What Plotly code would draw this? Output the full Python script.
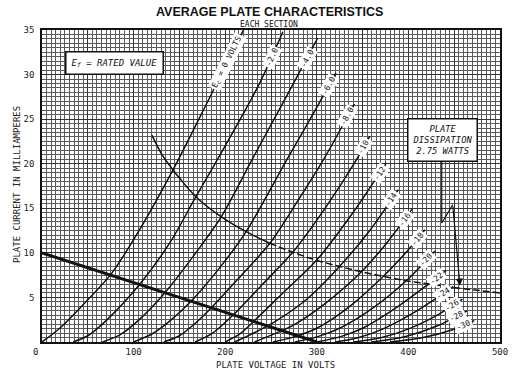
import math
import plotly.graph_objects as go

# ---------------- data ----------------
grid_labels = ["E<sub>c</sub> = 0 VOLTS", "-2.0", "-4.0", "-6.0", "-8.0", "-10", "-12",
               "-14", "-16", "-18", "-20", "-22", "-24", "-26", "-28", "-30"]
label_plain_len = [12, 4, 4, 4, 4, 3, 3, 3, 3, 3, 3, 3, 3, 3, 3, 3]
label_gap_px = [5, 16, 11, 3, 3, 3, 3, 3, 3, 3, 3, 3, 3, 3, 3, 3]

v_ec0 = [0, 20, 45, 76, 110, 143, 182, 220]
i_ec0 = [0, 1.6, 4.2, 7.7, 13.2, 19.3, 27.2, 35.0]
v_ec2 = [34, 50, 70, 106.5, 140, 168, 200, 237, 263]
i_ec2 = [0, 0.7, 2.4, 6.45, 11.2, 16.3, 22.0, 28.9, 34.8]
v_ec4 = [66, 85, 105, 134, 165, 196, 229, 265, 301]
i_ec4 = [0, 0.8, 2.4, 5.5, 9.6, 14.1, 20.4, 27.2, 34.1]
v_ec6 = [100, 120, 140, 163, 193, 223, 267, 296, 321]
i_ec6 = [0, 0.9, 2.4, 4.6, 8.2, 12.4, 20.4, 25.6, 30.2]
v_ec8 = [133, 150, 165, 185, 216, 249, 279, 307, 341]
i_ec8 = [0, 0.7, 1.9, 3.85, 7.3, 11.1, 15.8, 20.4, 26.7]
v_ec10 = [167, 185, 209, 241, 274, 311, 343, 358]
i_ec10 = [0, 0.9, 3.05, 6.5, 10.1, 15.3, 20.4, 23.1]
v_ec12 = [200, 216, 231, 263, 300, 338, 376]
i_ec12 = [0, 0.9, 2.3, 5.5, 9.2, 14.3, 20.1]
v_ec14 = [210, 227, 253, 289, 325, 357, 389]
i_ec14 = [0, 0.8, 2.2, 4.8, 8.5, 12.4, 17.1]
v_ec16 = [232, 251, 273, 309, 349, 377, 404]
i_ec16 = [0, 0.8, 1.8, 4.3, 7.9, 11.2, 14.9]
v_ec18 = [252, 276, 301, 336, 373, 397, 418]
i_ec18 = [0, 0.6, 1.6, 4.0, 7.4, 10.0, 12.6]
v_ec20 = [276, 301, 326, 361, 398, 429]
i_ec20 = [0, 0.6, 1.6, 3.8, 6.9, 10.2]
v_ec22 = [300, 326, 351, 386, 422, 441]
i_ec22 = [0, 0.6, 1.6, 3.8, 6.5, 8.0]
v_ec24 = [320, 346, 373, 411, 449]
i_ec24 = [0, 0.5, 1.5, 3.6, 6.2]
v_ec26 = [340, 371, 401, 433, 459]
i_ec26 = [0, 0.5, 1.5, 3.1, 4.8]
v_ec28 = [360, 396, 431, 464]
i_ec28 = [0, 0.6, 1.8, 3.5]
v_ec30 = [380, 416, 449, 472]
i_ec30 = [0, 0.5, 1.4, 2.4]

diss_v = [120, 130, 143, 150, 168, 195, 222.5, 248, 273, 298.6, 324, 347.5, 371, 396, 420, 447, 475, 500]
diss_i = [23.2, 21.2, 19.3, 18.4, 16.3, 14.1, 12.4, 11.1, 10.1, 9.2, 8.5, 7.9, 7.4, 6.9, 6.55, 6.15, 5.8, 5.5]
diss_solid_count = 8

load_v = [0, 300]
load_i = [10, 0]

arrow_v = [436.4, 436.4, 448.4]
arrow_i = [20.2, 13.35, 15.4]
arrow_tip = (456.3, 6.3)

x_ticks = [50, 100, 150, 200, 250, 300, 350, 400, 450, 500]
x_ticktext = ["", "100", "", "200", "", "300", "", "400", "", "500"]
y_ticks = [5, 10, 15, 20, 25, 30, 35]
y_ticktext = ["5", "10", "15", "20", "25", "30", "35"]

curves_v = [v_ec0, v_ec2, v_ec4, v_ec6, v_ec8, v_ec10, v_ec12, v_ec14, v_ec16,
            v_ec18, v_ec20, v_ec22, v_ec24, v_ec26, v_ec28, v_ec30]
curves_i = [i_ec0, i_ec2, i_ec4, i_ec6, i_ec8, i_ec10, i_ec12, i_ec14, i_ec16,
            i_ec18, i_ec20, i_ec22, i_ec24, i_ec26, i_ec28, i_ec30]

# ---------------- layout geometry ----------------
W, H = 519, 373
ML, MR, MT, MB = 42, 19, 30, 31
PW, PH = W - ML - MR, H - MT - MB
XMAX, YMAX = 500, 35
SX, SY = PW / XMAX, PH / YMAX
MONO = "DejaVu Sans Mono"
INK = "#111"

fig = go.Figure()

for v, i in zip(curves_v, curves_i):
    fig.add_trace(go.Scatter(x=v, y=i, mode="lines",
                             line=dict(color=INK, width=1.5, shape="spline", smoothing=0.8),
                             hoverinfo="skip", showlegend=False))

fig.add_trace(go.Scatter(x=diss_v[:diss_solid_count], y=diss_i[:diss_solid_count], mode="lines",
                         line=dict(color=INK, width=1.5, shape="spline"), showlegend=False))
fig.add_trace(go.Scatter(x=diss_v[diss_solid_count - 1:], y=diss_i[diss_solid_count - 1:], mode="lines",
                         line=dict(color=INK, width=1.5, shape="spline", dash="7px,3px"),
                         showlegend=False))
fig.add_trace(go.Scatter(x=load_v, y=load_i, mode="lines",
                         line=dict(color=INK, width=3), showlegend=False))
fig.add_trace(go.Scatter(x=arrow_v, y=arrow_i, mode="lines",
                         line=dict(color=INK, width=1.2), showlegend=False))

annotations = []
# curve labels, rotated along each curve near its upper end
for k, (v, i) in enumerate(zip(curves_v, curves_i)):
    dx = (v[-1] - v[-2]) * SX
    dy = (i[-1] - i[-2]) * SY
    ang = math.atan2(dy, dx)
    length = label_plain_len[k] * 4.85 + 4
    d = length / 2 + label_gap_px[k]
    cx = v[-1] - d * math.cos(ang) / SX
    cy = i[-1] - d * math.sin(ang) / SY
    annotations.append(dict(x=cx, y=cy, xref="x", yref="y", text=grid_labels[k],
                            xanchor="center", yanchor="middle",
                            showarrow=False, textangle=-math.degrees(ang),
                            font=dict(family=MONO, size=8, color=INK),
                            bgcolor="white", borderpad=1))

annotations += [
    dict(x=arrow_tip[0], y=arrow_tip[1], ax=arrow_v[-1], ay=arrow_i[-1], xref="x", yref="y",
         axref="x", ayref="y", text="", showarrow=True, arrowhead=2, arrowsize=1.2,
         arrowwidth=1.2, arrowcolor=INK),
    dict(x=78.6, y=31.3, xref="x", yref="y", showarrow=False, xanchor="center", yanchor="middle",
         text="<i>E<sub>f</sub> = RATED VALUE</i>",
         font=dict(family=MONO, size=9, color=INK),
         bgcolor="white", bordercolor=INK, borderwidth=1.5, borderpad=5),
    dict(x=437.2, y=22.7, xref="x", yref="y", showarrow=False, xanchor="center", yanchor="middle",
         text="<i>PLATE<br>DISSIPATION<br>2.75 WATTS</i>",
         font=dict(family=MONO, size=8.8, color=INK), align="center",
         bgcolor="white", bordercolor=INK, borderwidth=1.5, borderpad=4),
    dict(x=(269 - ML) / PW, y=1 + 18 / PH, xref="paper", yref="paper", showarrow=False,
         xanchor="center", yanchor="middle",
         text="<b>AVERAGE PLATE CHARACTERISTICS</b>",
         font=dict(family="Liberation Sans, Arial", size=12.5, color=INK)),
    dict(x=(269 - ML) / PW, y=1 + 6 / PH, xref="paper", yref="paper", showarrow=False,
         xanchor="center", yanchor="middle",
         text="EACH SECTION", font=dict(family=MONO, size=8, color=INK)),
    dict(x=(17 - ML) / PW, y=(H - MB - 185) / PH, xref="paper", yref="paper", showarrow=False,
         xanchor="center", yanchor="middle",
         text="PLATE CURRENT IN MILLIAMPERES", textangle=-90,
         font=dict(family=MONO, size=9, color="#222")),
    dict(x=(275 - ML) / PW, y=-23 / PH, xref="paper", yref="paper", showarrow=False,
         xanchor="center", yanchor="middle",
         text="PLATE VOLTAGE IN VOLTS", font=dict(family=MONO, size=9, color="#222")),
    dict(x=(35 - ML) / PW, y=-10 / PH, xref="paper", yref="paper", showarrow=False,
         xanchor="center", yanchor="middle",
         text="0", font=dict(family=MONO, size=9, color="#222")),
]

fig.update_layout(
    width=W, height=H,
    margin=dict(l=ML, r=MR, t=MT, b=MB, autoexpand=False),
    paper_bgcolor="white", plot_bgcolor="white",
    showlegend=False,
    annotations=annotations,
    xaxis=dict(range=[0, XMAX], tickvals=x_ticks, ticktext=x_ticktext, ticks="",
               showgrid=True, gridcolor="#333", gridwidth=1, zeroline=False,
               showline=True, mirror=True, linecolor=INK, linewidth=1.5,
               tickfont=dict(family=MONO, size=9, color="#222"),
               minor=dict(dtick=5, tick0=0, showgrid=True, gridcolor="#5a5a5a", gridwidth=0.6)),
    yaxis=dict(range=[0, YMAX], tickvals=y_ticks, ticktext=y_ticktext, ticks="",
               showgrid=True, gridcolor="#333", gridwidth=1, zeroline=False,
               showline=True, mirror=True, linecolor=INK, linewidth=1.5,
               ticklabelstandoff=4,
               tickfont=dict(family=MONO, size=9, color="#222"),
               minor=dict(dtick=0.5, tick0=0, showgrid=True, gridcolor="#5a5a5a", gridwidth=0.6)),
)

fig.write_html("out.html", config={"displayModeBar": False},
               post_script="document.body.style.margin='0px';")
